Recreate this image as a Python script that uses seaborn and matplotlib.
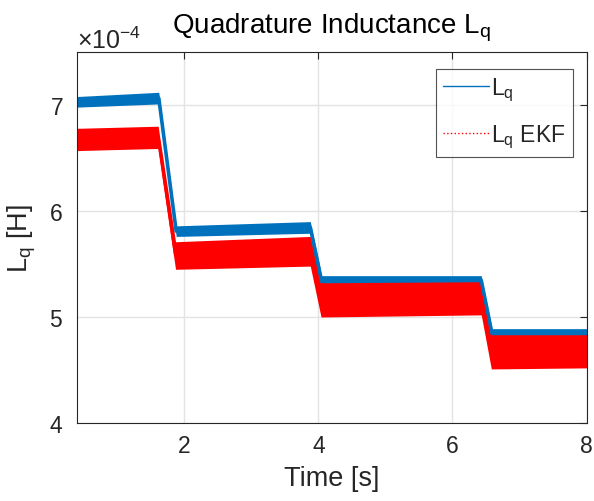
import numpy as np
import pandas as pd
import seaborn as sns
import matplotlib
matplotlib.use("Agg")
import matplotlib.pyplot as plt
from matplotlib.lines import Line2D
from matplotlib.ticker import ScalarFormatter

# ---- data ----
# Lq (measured/reference): band envelope [H]
t_lq = [0.40, 1.62, 1.88, 3.88, 4.05, 6.43, 6.59, 8.00]
lq_high = [7.08e-4, 7.12e-4, 5.86e-4, 5.90e-4, 5.39e-4, 5.39e-4, 4.89e-4, 4.89e-4]
lq_low = [6.98e-4, 7.01e-4, 5.76e-4, 5.79e-4, 5.28e-4, 5.30e-4, 4.80e-4, 4.80e-4]

# Lq EKF estimate: band envelope [H]
t_ekf = [0.40, 1.61, 1.87, 3.88, 4.04, 6.43, 6.58, 8.00]
ekf_high = [6.78e-4, 6.80e-4, 5.71e-4, 5.76e-4, 5.34e-4, 5.36e-4, 4.84e-4, 4.85e-4]
ekf_low = [6.57e-4, 6.59e-4, 5.45e-4, 5.48e-4, 5.00e-4, 5.02e-4, 4.51e-4, 4.52e-4]

series_names = ["Lq", "Lq EKF"]
x_ticks = [2, 4, 6, 8]
y_ticks = [4e-4, 5e-4, 6e-4, 7e-4]

rows = []
for name, t, lo, hi in [(series_names[0], t_lq, lq_low, lq_high),
                        (series_names[1], t_ekf, ekf_low, ekf_high)]:
    for ti, l, h in zip(t, lo, hi):
        rows.append((name, ti, l))
        rows.append((name, ti, h))
df = pd.DataFrame(rows, columns=["series", "t", "L"])

sns.set_style("white")
plt.rcParams["font.family"] = ["Liberation Sans", "DejaVu Sans"]
plt.rcParams["mathtext.fontset"] = "custom"
plt.rcParams["mathtext.rm"] = "Liberation Sans"
plt.rcParams["mathtext.it"] = "Liberation Sans"
plt.rcParams["mathtext.default"] = "regular"

blue = "#0072BD"
red = "#FF0000"
axcol = "#262626"

fig = plt.figure(figsize=(5.94, 5.02), dpi=100)
ax = fig.add_axes([0.1296, 0.1554, 0.8578, 0.739])

for name, col, lw in [(series_names[0], blue, 2.6), (series_names[1], red, 2.2)]:
    sns.lineplot(data=df[df.series == name], x="t", y="L", estimator="mean",
                 errorbar=("pi", 100), color=col, linewidth=lw, ax=ax,
                 err_kws={"alpha": 1.0, "linewidth": 0}, legend=False)

ax.set_xlim(0.4, 8)
ax.set_ylim(4e-4, 7.5e-4)
ax.set_xticks(x_ticks)
ax.set_yticks(y_ticks)
fmt = ScalarFormatter(useMathText=True)
fmt.set_powerlimits((-3, 3))
ax.yaxis.set_major_formatter(fmt)
ax.yaxis.get_offset_text().set_fontsize(18)
ax.yaxis.get_offset_text().set_color(axcol)

ax.grid(True, color="#e3e3e3", linewidth=1.0)
ax.set_axisbelow(True)
for s in ax.spines.values():
    s.set_visible(True)
    s.set_color(axcol)
    s.set_linewidth(0.8)
ax.tick_params(direction="in", length=5, width=0.8, colors=axcol,
               labelsize=16.5, top=True, right=True, pad=8)
ax.tick_params(axis="y", pad=10)

ax.set_xlabel("Time [s]", fontsize=19.5, color=axcol, labelpad=6)
ax.set_ylabel(r"L$_{q}$ [H]", fontsize=19.5, color=axcol, labelpad=8)
ax.set_title(r"Quadrature Inductance L$_{q}$", fontsize=20, color="black", pad=14)

handles = [Line2D([], [], color=blue, lw=1.0, linestyle="-"),
           Line2D([], [], color=red, lw=1.0, linestyle=":")]
leg = ax.legend(handles, [r"L$_{q}$", r"L$_{q}$ EKF"],
                loc="upper right", bbox_to_anchor=(0.973, 0.955), fontsize=16.5,
                frameon=True, fancybox=False, edgecolor=axcol, handlelength=2.0,
                handletextpad=0.12, borderpad=0.3, labelspacing=0.85, borderaxespad=0.0)
leg.get_frame().set_linewidth(0.8)

fig.savefig("out.png", dpi=100)
